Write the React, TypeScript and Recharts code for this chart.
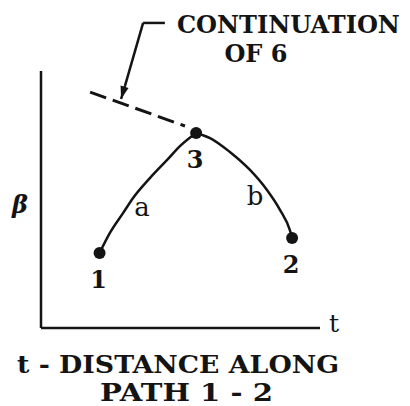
import { ComposedChart, Line, XAxis, YAxis, ReferenceDot, ReferenceLine } from 'recharts'

// t runs 0..100 along the path, beta 0..100 (arbitrary units)
const curveA = [
  { t: 21.0, beta: 29.2 },
  { t: 24.7, beta: 37.0 },
  { t: 29.4, beta: 44.7 },
  { t: 33.0, beta: 50.6 },
  { t: 39.1, beta: 58.4 },
  { t: 45.2, beta: 65.4 },
  { t: 49.8, beta: 70.8 },
  { t: 55.6, beta: 75.9 },
]

const curveB = [
  { t: 55.6, beta: 75.9 },
  { t: 60.6, beta: 73.9 },
  { t: 67.7, beta: 68.5 },
  { t: 74.9, beta: 61.5 },
  { t: 81.0, beta: 53.7 },
  { t: 85.7, beta: 45.9 },
  { t: 89.2, beta: 38.1 },
  { t: 90.0, beta: 35.0 },
]

const continuation = [
  { t: 17.6, beta: 91.8 },
  { t: 51.6, beta: 78.6 },
]

const leader = [
  { t: 44.4, beta: 118.7 },
  { t: 36.6, beta: 118.7 },
  { t: 30.1, beta: 94.2 },
]
const arrowTip = { t: 28.7, beta: 89.1 }

const points = [
  { name: '1', t: 21.0, beta: 29.2 },
  { name: '3', t: 55.6, beta: 75.9 },
  { name: '2', t: 90.0, beta: 35.0 },
]

const segmentLabels = [
  { name: 'a', t: 36.2, beta: 46.7 },
  { name: 'b', t: 76.7, beta: 51.0 },
]

const noteLines = ['CONTINUATION', 'OF 6']
const titleLines = ['t - DISTANCE ALONG', 'PATH 1 - 2']
const xName = 't'
const yName = 'β'

const ink = '#141414'
const serif = '"DejaVu Serif", serif'

function ArrowHead({ cx, cy }: { cx?: number; cy?: number }) {
  if (cx == null || cy == null) return null
  return (
    <polygon
      points={`${cx},${cy} ${cx + 7.5},${cy - 11} ${cx - 0.5},${cy - 13.5}`}
      fill={ink}
    />
  )
}

// axis names + the two-line caption, hung off the origin
function OriginLabels({ viewBox }: any) {
  const { x, y } = viewBox
  return (
    <g fill={ink}>
      <text x={x + 288} y={y + 4} fontFamily={serif} fontSize={25}>{xName}</text>
      <text x={x - 21} y={y - 115} textAnchor="middle" fontFamily={serif} fontWeight="bold"
        fontStyle="italic" fontSize={24}>{yName}</text>
      <text x={x - 24} y={y + 45} fontFamily={serif} fontWeight="bold" fontSize={24}
        textLength={322} lengthAdjust="spacingAndGlyphs">
        {titleLines[0]}
      </text>
      <text x={x + 59} y={y + 73} fontFamily={serif} fontWeight="bold" fontSize={24}
        textLength={173} lengthAdjust="spacingAndGlyphs">
        {titleLines[1]}
      </text>
    </g>
  )
}

function NoteLabel({ viewBox }: any) {
  const { x, y } = viewBox
  return (
    <g fill={ink}>
      <text x={x + 12} y={y + 10} fontFamily={serif} fontWeight="bold" fontSize={24}
        textLength={223} lengthAdjust="spacingAndGlyphs">{noteLines[0]}</text>
      <text x={x + 91} y={y + 39} textAnchor="middle" fontFamily={serif} fontWeight="bold"
        fontSize={24}>{noteLines[1]}</text>
    </g>
  )
}

const pointLabel = (name: string) => ({ viewBox }: any) => (
  <text x={viewBox.x + viewBox.width / 2 - 1} y={viewBox.y + viewBox.height + 29}
    textAnchor="middle" fontFamily={serif} fontWeight="bold" fontSize={24} fill={ink}>
    {name}
  </text>
)

const segLabel = (name: string) => ({ viewBox }: any) => (
  <text x={viewBox.x} y={viewBox.y + 8} textAnchor="middle" fontFamily={serif}
    fontSize={26} fill={ink}>
    {name}
  </text>
)

export default function App() {
  return (
    <div style={{ position: 'absolute', left: 0, top: 0, background: '#fff' }}>
      <ComposedChart width={410} height={406} margin={{ top: 71, right: 90, bottom: 77, left: 40 }}>
        <XAxis type="number" dataKey="t" domain={[0, 100]} height={1} tick={false}
          tickLine={false} axisLine={{ stroke: ink, strokeWidth: 2.5 }} />
        <YAxis type="number" dataKey="beta" domain={[0, 100]} width={1} tick={false}
          tickLine={false} axisLine={{ stroke: ink, strokeWidth: 2.5 }} />

        <Line data={continuation} dataKey="beta" type="linear" stroke={ink} strokeWidth={3}
          strokeDasharray="17 7" dot={false} isAnimationActive={false} />
        <Line data={curveA} dataKey="beta" type="monotone" stroke={ink} strokeWidth={2.5}
          dot={false} isAnimationActive={false} />
        <Line data={curveB} dataKey="beta" type="monotone" stroke={ink} strokeWidth={2.5}
          dot={false} isAnimationActive={false} />

        {leader.slice(1).map((p, i) => (
          <ReferenceLine key={i} ifOverflow="visible" stroke={ink} strokeWidth={2.5}
            segment={[{ x: leader[i].t, y: leader[i].beta }, { x: p.t, y: p.beta }]} />
        ))}
        <ReferenceLine ifOverflow="visible" stroke={ink} strokeWidth={2.5}
          segment={[{ x: leader[2].t, y: leader[2].beta }, { x: arrowTip.t, y: arrowTip.beta }]} />
        <ReferenceDot x={arrowTip.t} y={arrowTip.beta} r={1} ifOverflow="visible"
          shape={<ArrowHead />} />
        <ReferenceDot x={leader[0].t} y={leader[0].beta} r={0} ifOverflow="visible"
          fill="none" stroke="none" label={<NoteLabel />} />
        <ReferenceDot x={0} y={0} r={0} ifOverflow="visible" fill="none" stroke="none"
          label={<OriginLabels />} />

        {points.map((p) => (
          <ReferenceDot key={p.name} x={p.t} y={p.beta} r={6} fill={ink} stroke="none"
            ifOverflow="visible" label={pointLabel(p.name)} />
        ))}
        {segmentLabels.map((s) => (
          <ReferenceDot key={s.name} x={s.t} y={s.beta} r={0} fill="none" stroke="none"
            ifOverflow="visible" label={segLabel(s.name)} />
        ))}
      </ComposedChart>
    </div>
  )
}
